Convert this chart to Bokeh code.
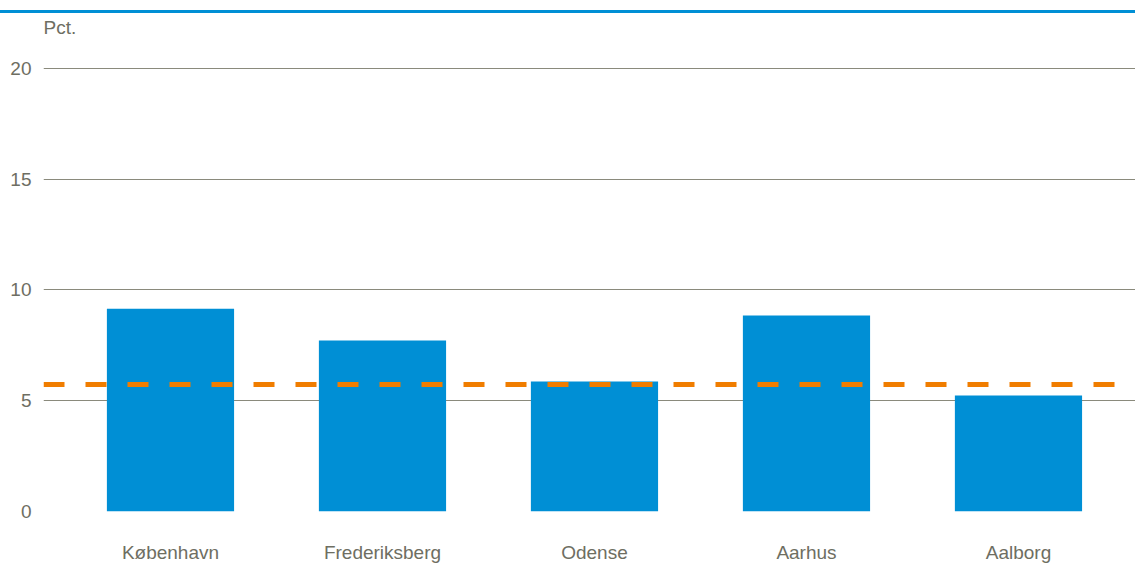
from bokeh.plotting import figure
from bokeh.models import Span, Label, FixedTicker, Range1d, Div, ColumnDataSource
from bokeh.layouts import column
from bokeh.embed import file_html
from bokeh.resources import INLINE

# Data
cities = ["København", "Frederiksberg", "Odense", "Aarhus", "Aalborg"]
values = [9.15, 7.72, 5.87, 8.85, 5.24]
average = 5.73
y_ticks = [0, 5, 10, 15, 20]
y_label = "Pct."

BLUE = "#008fd5"
ORANGE = "#f07d00"
GRID = "#8a8a7c"
TEXT = "#6e6e62"
FONT = "Liberation Sans"

idx = list(range(len(cities)))
src = ColumnDataSource(dict(x=idx, top=values, name=cities))

p = figure(width=1135, height=554, output_backend="svg", toolbar_location=None,
           x_range=Range1d(-0.599, len(cities) - 1 + 0.552),
           y_range=Range1d(0, 22.39),
           min_border_left=43, min_border_right=0, min_border_top=2, min_border_bottom=56)
p.outline_line_color = None
p.background_fill_color = "white"
p.border_fill_color = "white"

p.vbar(x="x", top="top", width=0.6, source=src, color=BLUE, line_color=None)

avg = Span(location=average, dimension="width", line_color=ORANGE, line_width=5,
           line_dash="21 21")
p.add_layout(avg)

# axes
p.xaxis.ticker = FixedTicker(ticks=idx)
p.xaxis.major_label_overrides = {i: c for i, c in enumerate(cities)}
p.yaxis.ticker = FixedTicker(ticks=y_ticks)
for ax in (p.xaxis[0], p.yaxis[0]):
    ax.axis_line_color = None
    ax.major_tick_line_color = None
    ax.minor_tick_line_color = None
    ax.major_tick_out = 0
    ax.major_tick_in = 0
    ax.major_label_text_font = FONT
    ax.major_label_text_font_size = "19px"
    ax.major_label_text_color = TEXT
p.xaxis.major_label_standoff = 30
p.yaxis.major_label_standoff = 12

p.xgrid.grid_line_color = None
p.ygrid.ticker = FixedTicker(ticks=y_ticks)
p.ygrid.grid_line_color = GRID
p.ygrid.grid_line_width = 1

p.add_layout(Label(x=-0.599, y=21.86, text=y_label, text_font=FONT,
                   text_font_size="19px", text_color=TEXT, text_align="left",
                   text_baseline="alphabetic"))

top_line = Div(width=1135, height=3, margin=(10, 0, 0, 0),
               styles={"background-color": BLUE})
p.margin = (0, 0, 0, 0)
layout = column(top_line, p, spacing=0)

open("out.html", "w").write(file_html(layout, INLINE))
